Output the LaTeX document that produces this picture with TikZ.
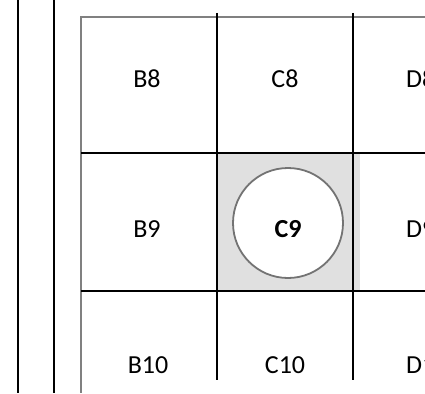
\documentclass[tikz,border=0pt]{standalone}
\usepackage{fontspec}
\setmainfont{Carlito}
\usepackage{tikz}
\usetikzlibrary{positioning}

\begin{document}
\begin{tikzpicture}[
    x=1pt,y=-1pt,
    rail/.style={line width=2.6pt,black},
    grid/.style={line width=2.4pt,black},
    frame/.style={line width=2.4pt,black!50},
    cell/.style={anchor=base,font=\fontsize{26}{30}\selectfont,inner sep=0pt},
    hole/.style={circle,draw=black!55,line width=1.8pt,fill=white,minimum size=110pt,inner sep=0pt}
  ]
    \useasboundingbox (0,0) rectangle (425,393);
    \clip (0,0) rectangle (425,393);
    \fill[black!12] (217,153) rectangle (360,291);
    \foreach \x in {18,54} {\draw[rail] (\x,0)--(\x,393);}
    \draw[frame] (425,17)--(81,17)--(81,393);
    \foreach \y in {153,291} {\draw[grid] (81,\y)--(425,\y);}
    \foreach \x in {217,353} {\draw[grid] (\x,13)--(\x,380);}
    \node[hole] (c9) at (288,223) {};
    \node[cell,font=\fontsize{26}{30}\selectfont\bfseries] (c9t) at (288,237) {C9};
    \node[cell] (b8) at (147,88) {B8}; \node[cell] (c8) at (285,88) {C8};
    \node[cell] (b9) at (147,237) {B9}; \node[cell] (b10) at (148,373) {B10};
    \node[cell] (c10) at (285,373) {C10};
    \foreach \n/\y in {8/88,9/237,10/373} {\node[cell,anchor=base west] (d\n) at (406,\y) {D\n};}
  \end{tikzpicture}
\end{document}
